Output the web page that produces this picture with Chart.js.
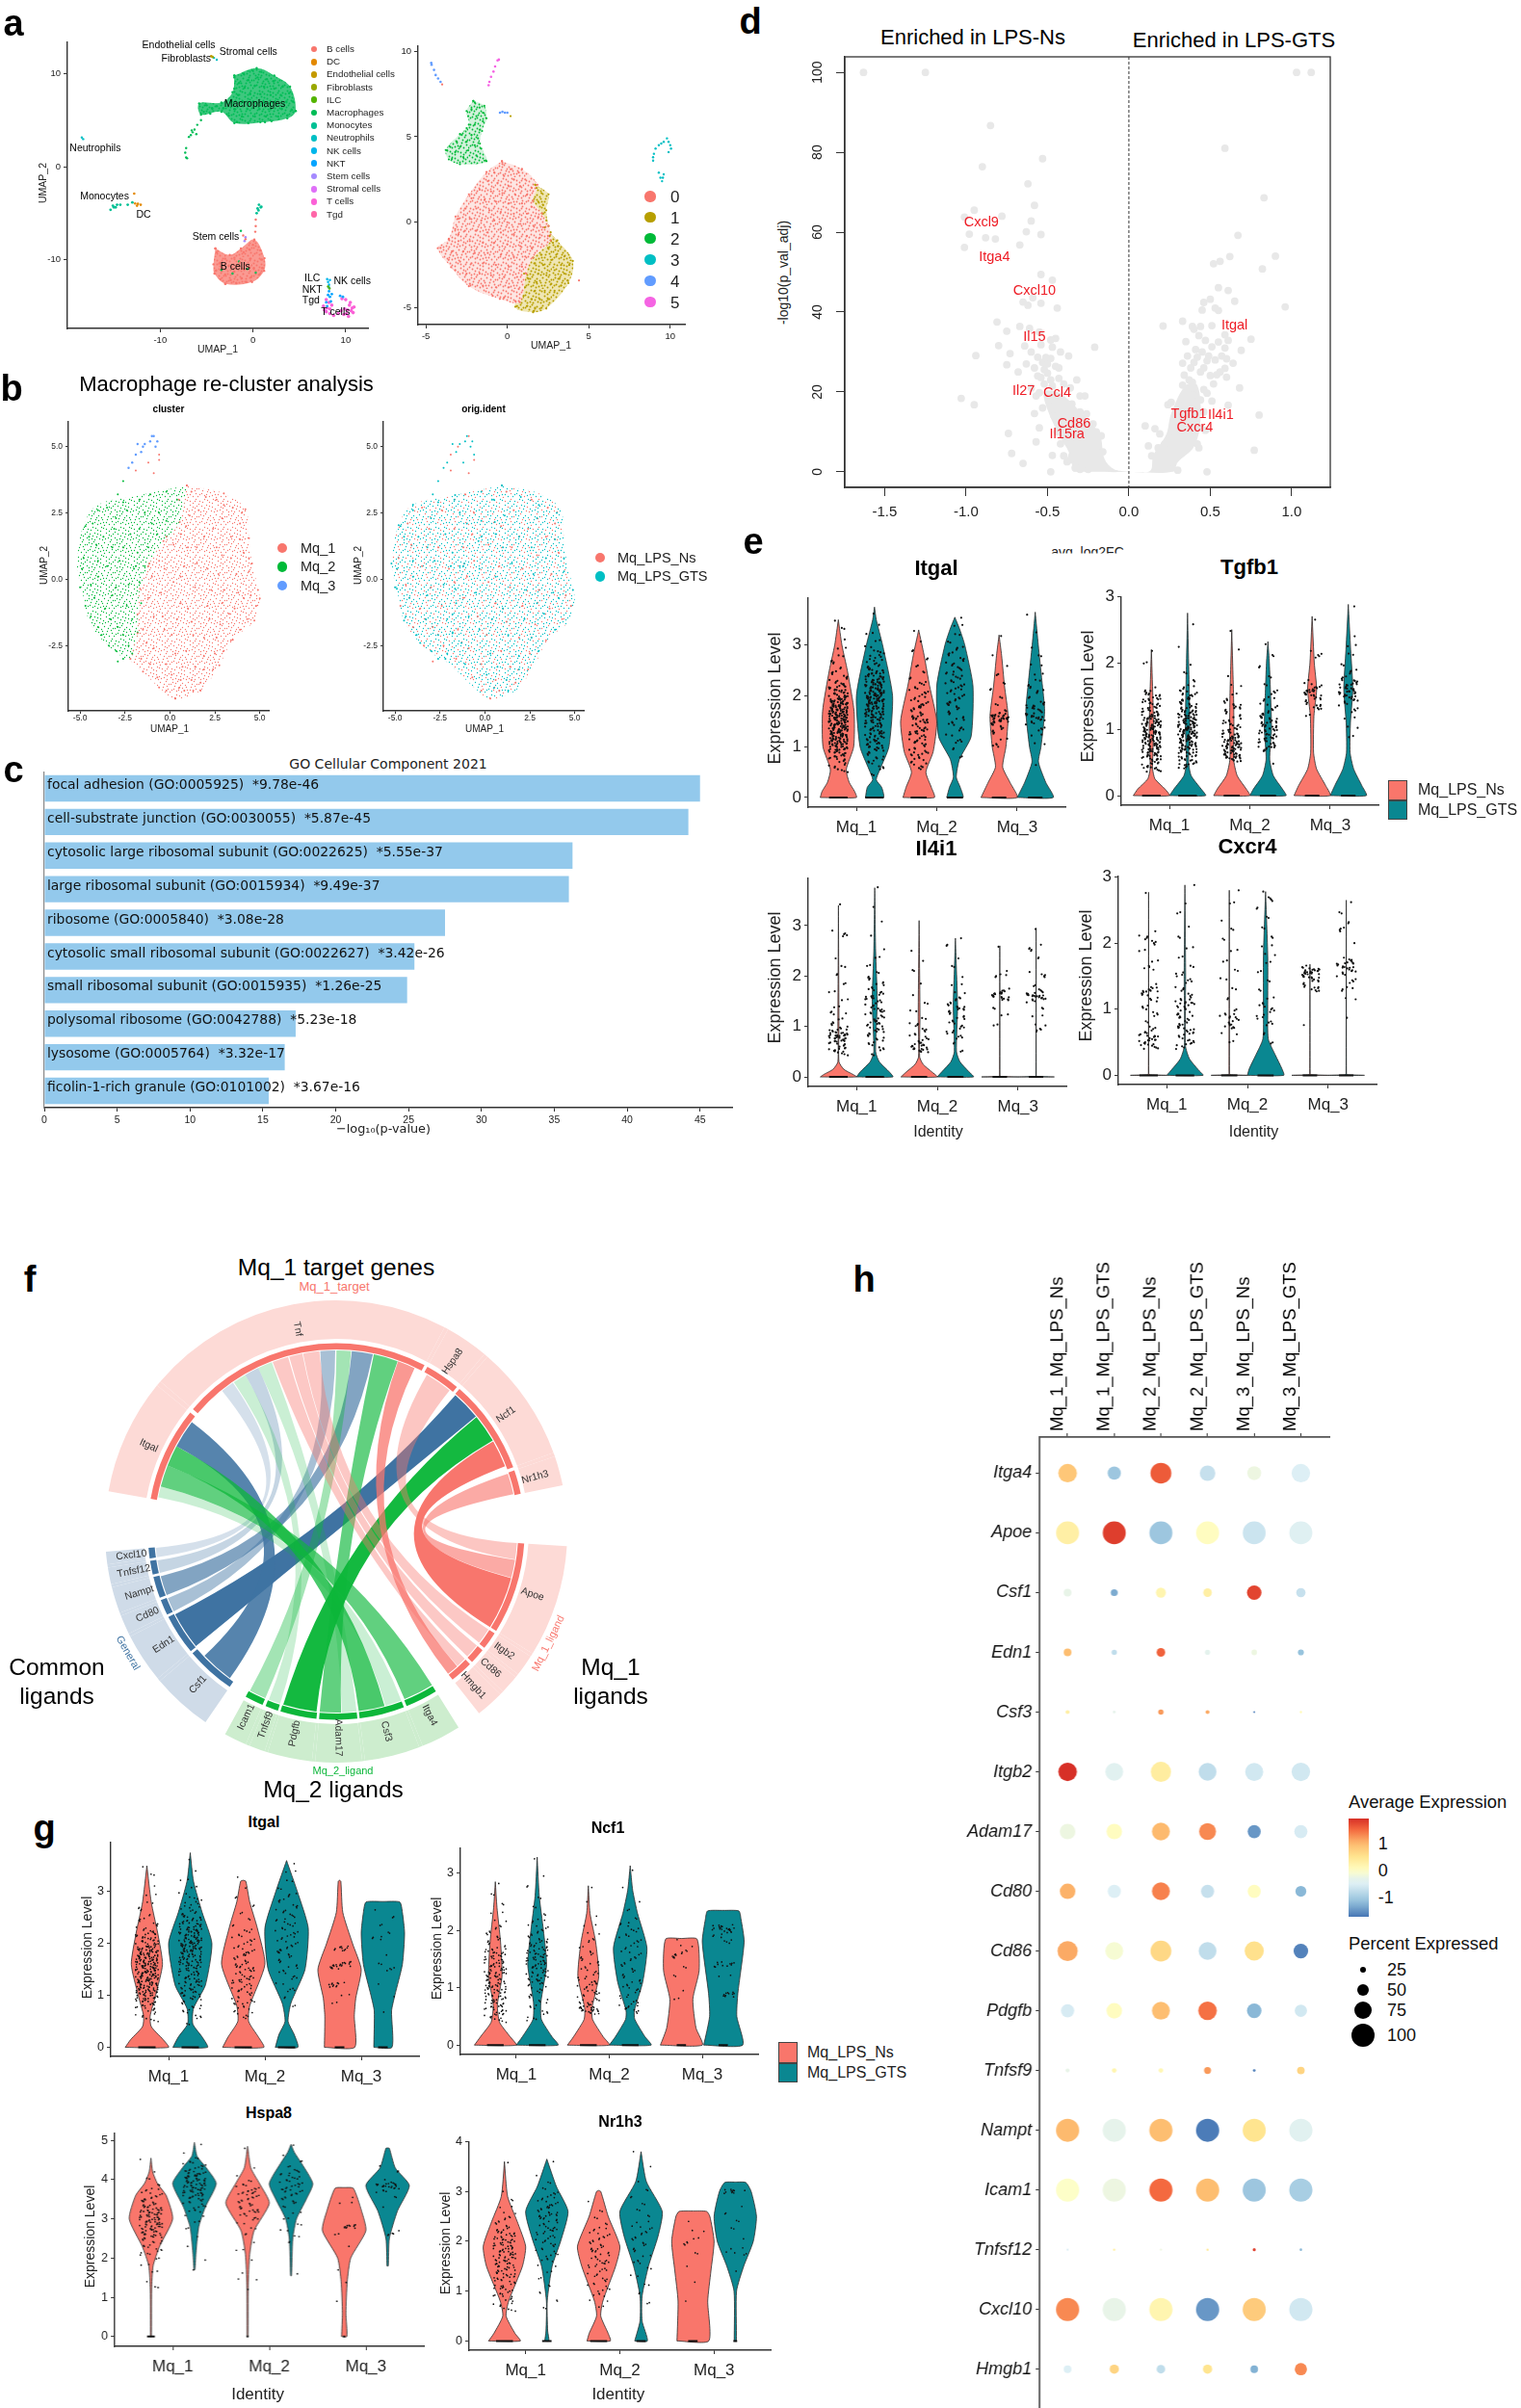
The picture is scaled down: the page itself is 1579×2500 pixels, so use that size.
<!DOCTYPE html>
<html><head><meta charset="utf-8"><title>Macrophage figure</title>
<script src="https://cdn.jsdelivr.net/npm/chart.js@4"></script>
<style>
body{margin:0;background:#fff;font-family:"Liberation Sans",Arial,sans-serif;color:#000}
#page{position:relative;width:1579px;height:2500px;overflow:hidden}
#page canvas{position:absolute}
.t{position:absolute;white-space:nowrap;line-height:1}
.d{position:absolute;border-radius:50%}
.s{position:absolute;box-sizing:border-box;border:1px solid #444}
</style></head><body><div id="page"></div>
<script>
// ---- panel a
var atlasNames=["B cells","DC","Endothelial cells","Fibroblasts","ILC","Macrophages","Monocytes","Neutrophils","NK cells","NKT","Stem cells","Stromal cells","T cells","Tgd"];
var atlasColors=["#F8766D","#E38900","#C49A00","#99A800","#53B400","#00BC56","#00C094","#00BFC4","#00B6EB","#06A4FF","#A58AFF","#DF70F8","#FB61D7","#FF66A8"];
var macrophageHull=[[-2,9.8],[.4,10.6],[2.3,9.8],[4,8.6],[4.6,6],[3.7,5.2],[1.3,4.8],[-2,4.7],[-3.4,5.9],[-5.6,5.6],[-5.8,6.8],[-3.4,6.9],[-2.2,8],[-2,9.8]];
var bCellHull=[[-4.05,-8.8],[-2.5,-9.5],[-1.3,-8.8],[.15,-7.85],[1.25,-9.85],[1.2,-11.2],[-.1,-12.4],[-2.95,-12.6],[-4.15,-11.5],[-4.25,-10.5],[-4.05,-8.8]];
var macrophageCells=[[-2,9.6],[-1,10],[0,10.3],[.9,10.2],[-1.5,9],[-.5,9.3],[.5,9.6],[1.5,9.4],[2.2,9.2],[-2,8.4],[-.9,8.5],[.2,8.7],[1.2,8.6],[2.3,8.4],[3.2,8.6],[-1.6,7.7],[-.3,7.8],[.8,7.8],[1.9,7.7],[3,7.7],[3.9,7.9],[-2.3,7],[-1.1,7],[0,7],[1.2,6.9],[2.4,7],[3.6,7],[4.3,7],[-3.2,6.3],[-2,6.2],[-.6,6.2],[.7,6.2],[1.9,6.2],[3.1,6.2],[4.2,6.1],[-5,6.6],[-4.4,6.3],[-5.3,5.9],[-4.6,5.7],[-3.9,6.5],[-2.6,5.5],[-1.2,5.4],[.2,5.4],[1.4,5.4],[2.7,5.4],[3.7,5.5],[-1.7,4.8],[-.5,4.7],[.8,4.8],[2,4.9],[4.6,6],[-6.5,3.7],[-6.3,4],[-6,4.5],[-5.6,5],[-6.6,3.9],[-6.1,3.5],[-7.2,2],[-7.3,1.5],[-7.2,1],[-7.1,.9],[-6.9,3.2],[-6.7,3.4]];
var bCellCells=[[-3.9,-9.2],[-3,-9.9],[-2,-9.8],[-1,-9.2],[0,-8.4],[.8,-9],[-3.6,-10.4],[-2.6,-10.7],[-1.4,-10.3],[-.3,-9.9],[.9,-10],[-4,-11.2],[-3,-11.6],[-2,-11.3],[-1,-11],[.1,-10.9],[1,-10.9],[-3.5,-12.1],[-2.4,-12.2],[-1.2,-12],[-.2,-11.9],[.7,-11.6],[-3,-12.6],[-1.8,-12.5],[-.7,-12.4],[-.4,-8.9],[.3,-5.7],[.3,-6.4],[.25,-7],[-.8,-7.8],[-1.05,-7.4]];
var otherCells={
 DC:[[-12.7,-3.96],[-12.4,-4],[-12.1,-4.1],[-12.5,-4.2],[-12.8,-2.9]],
 Endothelial:[[-4.5,11.9]],
 Fibroblasts:[[-4.35,11.8]],
 ILC:[[8.1,-12.9],[8.25,-13.1]],
 Macro2:[[-1.5,-10.2],[-2.2,-11.5],[.3,-11.4],[-3.4,-11.1],[-1.3,-6.9],[-.6,-11]],
 Monocytes:[[-15.35,-4.64],[-15,-4.37],[-14.65,-4.1],[-14.3,-4.1],[-15.1,-4.2],[-14.8,-4.37],[-13,-3.85],[-13.5,-4.1],[.4,-5],[.85,-4.37],[.6,-4.7],[.5,-4.5],[.9,-4.3],[.65,-4.1]],
 Neutrophils:[[-18.45,3.14],[-18.3,2.97],[-4.2,11.7],[-3.9,11.5]],
 NK:[[8,-12.1],[8.1,-12.4],[8.2,-12.7],[8.3,-12.2]],
 NKT:[[8.2,-13],[8.2,-13.4],[8.1,-13.8],[8.3,-14],[7.9,-14.6],[8.4,-14.5],[8,-15],[9.4,-13.9],[9.7,-14],[8.5,-13.7]],
 Stem:[[-.8,-7.6],[-.9,-8]],
 T:[[7.6,-15],[7.9,-15.6],[8.3,-15.8],[8.7,-16],[9.2,-15.8],[9.8,-15.9],[10.3,-16.1],[10.8,-15.7],[10.9,-15.1],[10.5,-14.6],[10,-14.3],[9.6,-14.2],[7.9,-14.3],[8.2,-14.6],[8.5,-14.9],[10.2,-15.4],[10.6,-15.5],[9.9,-15.3],[8,-15.2],[8.3,-15.3],[10.4,-14.9],[10.1,-15.8],[10.7,-15.2],[9.5,-15.5],[7.7,-15.4]]
};
var clusterNames=["0","1","2","3","4","5"];
var clusterColors=["#F8766D","#B79F00","#00BA38","#00BFC4","#619CFF","#F564E3"];
var hull0=[[-.33,3.57],[.9,3.11],[1.85,2.19],[1.58,1.26],[2.12,.52],[2.53,-.22],[2.66,-1.06],[1.58,-2.07],[1.17,-3],[.76,-4.67],[-.46,-4.48],[-2.36,-3.74],[-3.45,-2.63],[-4.27,-1.52],[-3.59,-.96],[-3.18,.33],[-2.36,1.63],[-1.28,2.93],[-.33,3.57]];
var hull1=[[1.71,2.19],[2.53,1.63],[2.39,.7],[2.66,-.59],[3.07,-1.06],[4.02,-2.26],[3.75,-3.56],[2.39,-5.04],[1.58,-5.26],[.49,-4.94],[1.03,-3],[1.58,-2.07],[2.66,-1.06],[2.53,-.22],[2.12,.52],[1.58,1.26],[1.71,2.19]];
var hull2=[[-2.09,7.09],[-1.41,6.8],[-1.28,6.07],[-1.55,5.33],[-1.68,4.6],[-1.28,3.57],[-2.91,3.39],[-3.59,3.67],[-3.78,4.22],[-2.91,5.15],[-2.36,5.7],[-2.5,6.5],[-2.09,7.09]];
var cluster0=[[-.3,3.4],[.2,3.1],[.7,2.9],[-.8,2.9],[-.2,2.7],[.4,2.5],[1.1,2.5],[-1.2,2.4],[-.6,2.3],[.1,2.1],[.8,2.1],[1.5,2],[-1.7,1.9],[-1,1.8],[-.3,1.7],[.5,1.6],[1.2,1.6],[-2.2,1.4],[-1.4,1.3],[-.7,1.2],[.1,1.1],[.9,1.1],[1.5,.9],[-2.6,.8],[-1.9,.8],[-1.1,.7],[-.4,.6],[.4,.5],[1.2,.5],[1.9,.3],[-3,.2],[-2.3,.2],[-1.6,.1],[-.8,.1],[0,0],[.8,-.1],[1.6,-.2],[2.2,-.3],[-3.2,-.4],[-2.6,-.5],[-1.9,-.5],[-1.2,-.6],[-.4,-.6],[.4,-.7],[1.2,-.8],[2,-.9],[2.5,-.8],[-3.6,-1],[-3,-1.1],[-2.3,-1.1],[-1.5,-1.2],[-.8,-1.2],[0,-1.3],[.8,-1.4],[1.5,-1.5],[-4.1,-1.5],[-3.4,-1.7],[-2.7,-1.7],[-2,-1.8],[-1.2,-1.8],[-.4,-1.9],[.4,-2],[1.1,-2],[-3.6,-2.2],[-2.9,-2.3],[-2.2,-2.4],[-1.5,-2.4],[-.7,-2.5],[.1,-2.6],[.9,-2.6],[-3.2,-2.8],[-2.5,-3],[-1.7,-3],[-1,-3.1],[-.2,-3.2],[.6,-3.2],[-2.3,-3.6],[-1.5,-3.7],[-.7,-3.8],[.1,-3.8],[.7,-3.9],[-.9,-4.3],[-.2,-4.4],[.5,-4.6],[-3,-.7],[-4,8.05],[4.4,-3.4]];
var cluster1=[[1.8,2],[2.1,1.7],[1.9,1.2],[2.2,1],[2.2,.5],[2.4,.1],[2.3,-.3],[2.6,-.8],[2.8,-1.2],[3.1,-1.4],[2.5,-1.5],[3,-1.9],[3.5,-2],[2.1,-1.9],[2.7,-2.2],[3.3,-2.5],[3.8,-2.5],[2.2,-2.5],[1.7,-2.4],[2.9,-2.8],[3.5,-3],[1.9,-3],[2.4,-3.1],[3.2,-3.3],[3.7,-3.4],[1.3,-3.3],[1.8,-3.5],[2.7,-3.6],[3.3,-3.7],[1.1,-3.8],[1.7,-4],[2.3,-4],[2.9,-4],[1,-4.3],[1.5,-4.5],[2,-4.5],[2.5,-4.5],[1.2,-4.9],[1.7,-5],[2.1,-5],[1.6,-5.2],[.6,-4.9],[.2,6.2]];
var cluster2=[[-2,7],[-1.7,6.7],[-2.2,6.6],[-1.5,6.4],[-2.4,6.2],[-1.9,6.2],[-1.5,5.9],[-2,5.7],[-2.5,5.5],[-1.7,5.4],[-2.2,5.1],[-2.8,5.1],[-1.8,4.9],[-2.5,4.7],[-3.1,4.7],[-2,4.5],[-2.9,4.4],[-3.5,4.4],[-1.6,4.3],[-2.4,4.2],[-3.2,4.1],[-3.7,4.2],[-1.9,3.9],[-2.7,3.8],[-3.4,3.7],[-1.4,3.6]];
var cluster3=[[9.8,4.9],[9.9,4.7],[10,4.5],[10.05,4.3],[9.9,4.1],[9.3,4.5],[9.1,4.3],[9,4],[8.95,3.8],[8.95,3.6],[9.3,2.9],[9.4,2.6],[9.5,2.4],[9.55,2.6],[9.6,2.8],[9.45,4.6],[9.6,4.7]];
var cluster4=[[-4.67,9.31],[-4.65,9.2],[-4.5,8.9],[-4.4,8.6],[-4.25,8.4],[-4.1,8.2],[-.45,6.4],[-.3,6.45],[-.15,6.4],[0,6.4]];
var cluster5=[[-.52,9.5],[-.6,9.45],[-.75,9.1],[-.85,8.8],[-1,8.5],[-1.1,8.2],[-1.15,8]];
// ---- panel b
var hullMq1=[[.94,3.54],[3,3.24],[4.2,2.64],[4.4,1.55],[4.57,.6],[5,-.72],[4.7,-1.56],[3.5,-2.28],[2.75,-3.24],[1.7,-4.2],[.3,-4.5],[-.6,-4.08],[-1.5,-3.48],[-2.2,-3],[-1.8,-2.04],[-1.8,-1.32],[-1.66,-.36],[-1.14,.6],[-.36,1.44],[.55,2.16],[.94,3.54]];
var hullMq2=[[.94,3.54],[.55,2.16],[-.36,1.44],[-1.14,.6],[-1.66,-.36],[-1.8,-1.32],[-1.8,-2.04],[-2.2,-3],[-3.6,-2.4],[-4.5,-1.56],[-4.9,-.36],[-5.2,.6],[-4.8,2.04],[-4,2.81],[-1.66,3.17],[.94,3.54]];
var mq1Ns=[[1.2,3.3],[2.6,3],[3.5,2.7],[1.6,2.6],[3.9,2.1],[.9,2],[2.4,1.9],[3.4,1.6],[.2,1.3],[1.5,1.2],[4.1,1],[2.9,.9],[-.6,.7],[.8,.5],[2.1,.4],[3.7,.2],[-1,.1],[.2,-.1],[1.4,-.3],[3,-.4],[4.5,-.6],[-1.2,-.7],[.6,-.9],[2.1,-1],[3.6,-1.1],[4.8,-1],[-.4,-1.4],[1.2,-1.6],[2.8,-1.7],[4.3,-1.5],[-1.5,-1.9],[.1,-2.1],[1.9,-2.2],[3.4,-2.3],[-.9,-2.6],[.9,-2.7],[2.5,-2.8],[-1.6,-3],[-.2,-3.2],[1.4,-3.3],[2.4,-3.4],[-.7,-3.7],[.6,-3.8],[1.7,-3.9],[-.2,-4.2],[.8,-4.2],[.3,-4.5],[-.6,4.5],[-1.9,4.1],[-.9,4]];
var mq1Gts=[[.5,3],[2,3.1],[3,2.8],[1.1,2.4],[2.9,2.3],[4,2.5],[.6,1.7],[1.9,1.6],[3.9,1.5],[-.2,1.6],[1,1.2],[2.6,1.2],[3.4,.8],[4.4,.8],[-.3,.4],[1.5,.6],[2.7,.2],[4.4,.3],[-1.2,.5],[.6,.1],[2.3,-.4],[3.8,-.5],[-.5,-.5],[1,-1.1],[2.9,-.9],[4.1,-.7],[4.9,-.4],[-.9,-1.4],[.4,-1.5],[2.2,-1.5],[3.3,-1.3],[-1.3,-2.4],[-.3,-1.9],[1.3,-2.1],[2.6,-2.2],[3.9,-1.9],[.3,-2.8],[1.9,-2.9],[3,-2.7],[-1.1,-3.2],[.7,-3.3],[1.9,-3.4],[.1,-3.6],[1.2,-3.8],[.5,-4.1],[1.3,-4.2],[-.6,4.7],[-1.2,4.4]];
var mq2Ns=[[-1.1,3.2],[-3.5,2.7],[-2.4,2.6],[-.6,2.5],[-4.3,2.1],[-3.1,1.9],[-1.7,1.9],[-.7,1.7],[-4.1,1.3],[-2.6,1.2],[-1.2,1.2],[-4.8,.8],[-3.5,.5],[-2,.4],[-4.4,-.2],[-3,-.3],[-1.7,-.1],[-4.7,-1],[-3.6,-1.1],[-2.4,-1],[-4,-1.8],[-2.9,-1.8],[-3.4,-2.5],[-2.3,-2.5],[-2.9,-3.1]];
var mq2Gts=[[-.2,3.3],[-1.7,3],[-2.6,2.9],[.4,3],[-4,2.6],[-3,2.3],[-1.4,2.5],[-.2,2.2],[-4.7,2],[-3.7,1.6],[-2.2,1.7],[-1,2.1],[-4.5,1.6],[-3.2,1.2],[-1.8,1],[-4.9,.4],[-4,.7],[-2.8,.7],[-1.4,.5],[-5,-.3],[-4,.1],[-2.3,-.2],[-1.9,.5],[-4.2,-.7],[-3.2,-.6],[-1.6,-.9],[-4.4,-1.4],[-3.3,-1.5],[-2.1,-1.5],[-3.8,-2.1],[-2.6,-2.1],[-1.8,-2],[-3,-2.7],[-2.1,-2.8],[-2.6,-3],[-2.6,3.7],[-2.9,3.2]];
var mq3Ns=[[-.9,5.4],[-1.5,5],[-1.9,4.7]];
var mq3Gts=[[-1.8,5.1],[-1.4,5.1],[-1.1,5.2],[-.8,5],[-1.6,4.8],[-2.1,4.4],[-2.3,4.2],[-1,5.4],[-.7,5.2]];
// ---- panel c
var goTerms=["focal adhesion (GO:0005925)  *9.78e-46","cell-substrate junction (GO:0030055)  *5.87e-45","cytosolic large ribosomal subunit (GO:0022625)  *5.55e-37","large ribosomal subunit (GO:0015934)  *9.49e-37","ribosome (GO:0005840)  *3.08e-28","cytosolic small ribosomal subunit (GO:0022627)  *3.42e-26","small ribosomal subunit (GO:0015935)  *1.26e-25","polysomal ribosome (GO:0042788)  *5.23e-18","lysosome (GO:0005764)  *3.32e-17","ficolin-1-rich granule (GO:0101002)  *3.67e-16"];
var goValues=[45,44.2,36.25,36,27.5,25.4,24.9,17.25,16.5,15.4];
var goTicks=[0,5,10,15,20,25,30,35,40,45];
// ---- panel d
var volcanoFloorLeft=[[-.34,0],[-.37,5],[-.42,8.5],[-.5,15.6],[-.52,20],[-.44,20],[-.37,18],[-.29,14.6],[-.18,9.4],[-.15,3.3],[-.09,.6],[0,0],[-.34,0]];
var volcanoFloorRight=[[0,0],[.13,.2],[.15,4.1],[.23,9.4],[.26,14.6],[.35,21.7],[.42,21.7],[.44,13],[.4,6.3],[.3,2.4],[.27,0],[0,0]];
var volcanoCells=[[-1.63,100],[-1.25,100],[1.03,100],[1.12,100],[-.85,86.7],[-.53,78.4],[-.9,76.4],[-.62,72.1],[-.58,66.7],[-.95,65.5],[-1.01,63.8],[-.78,64],[-.6,62.8],[-.63,60.1],[-.98,59.5],[-.88,58.6],[-.82,58.3],[-.54,59.4],[-.67,56.8],[-1.01,56.2],[-.54,49.4],[-.47,48],[-.65,42.5],[-.59,43.6],[-.62,41.7],[-.54,42.2],[-.44,41],[-.81,37.5],[-.67,36.4],[-.61,35.9],[-.75,35.2],[-.45,33.4],[-.8,31.6],[-.64,31.5],[-.54,31.8],[-.47,31.2],[-.21,31.2],[-.73,29.6],[-.94,29.1],[-.56,28.7],[-.51,28.6],[-.37,29],[-.75,26.8],[-.53,27.4],[-.48,28.4],[-.43,26],[-.68,25],[-.45,26.4],[-.52,25.6],[-.54,23.6],[-.5,24.7],[-.43,23.4],[-.32,23],[-.4,22],[-.36,21],[-.47,21.5],[-.55,19.8],[-.3,19],[-.27,19],[-1.03,18.4],[-.95,16.8],[-.58,14.6],[-.74,9.6],[-.55,11],[-.57,7.5],[-.72,4.6],[-.47,4.1],[-.65,2.1],[-.48,0],[-.38,2.5],[-.3,15],[-.26,14.5],[-.22,12],[-.2,10],[-.17,9],[-.16,5],[-.42,7],[-.4,4],[-.36,3],[-.33,1],[-.3,.6],[-.25,.6],[-.35,4],[-.44,10],[-.38,12],[-.46,14],[-.35,17],[-.49,18],[-.52,22],[-.48,23],[-.58,26],[-.6,21],[-.5,27],[-.56,24],[-.6,30],[-.63,27],[-.42,30],[-.48,33],[-.55,35],[-.24,11],[-.53,16],[-.57,19],[.59,81],[.83,68.6],[.67,59.2],[.9,54],[.62,53.9],[.56,52.7],[.52,52.1],[.82,50.8],[.55,46.1],[.61,45.4],[.5,43.2],[.46,42.4],[.65,42.7],[.96,41.3],[.45,40.5],[.53,41],[.55,40.4],[.33,37.7],[.21,36.5],[.39,36.4],[.44,36.4],[.51,36.6],[.4,35.7],[.59,34.3],[.43,34.1],[.35,32.6],[.47,32.9],[.55,32.5],[.61,32.9],[.75,33.2],[.41,30.6],[.51,31.3],[.59,31],[.69,30.4],[.42,28.7],[.48,27.8],[.6,28.3],[.33,27.2],[.4,27.4],[.64,27.2],[.46,26],[.38,26],[.59,25.9],[.34,24.2],[.5,24.1],[.54,24.3],[.6,23.7],[.39,22.4],[.46,20.6],[.33,21.7],[.68,21],[.48,19.7],[.51,17.7],[.39,19.3],[.34,18],[.24,16.8],[.26,17.4],[.61,16.7],[.8,14.2],[.1,11.5],[.16,10.8],[.19,9.5],[.77,5.4],[.48,0],[.44,11],[.47,10.4],[.42,7],[.43,6],[.12,6.5],[.14,4],[.2,2],[.24,1],[.18,6],[.22,7],[.28,10],[.3,12],[.37,15],[.42,15],[.44,18],[.37,23],[.44,25],[.52,22],[.56,25],[.49,29],[.36,29],[.53,28],[.45,30],[.57,29],[.3,.4],[.46,15]];
var volcanoLabels=[["Cxcl9",-.906,62.5],["Itga4",-.826,53.8],["Cxcl10",-.58,45.2],["Il15",-.58,33.7],["Il27",-.647,20.1],["Ccl4",-.44,19.7],["Cd86",-.337,12.1],["Il15ra",-.38,9.3],["Itgal",.649,36.6],["Tgfb1",.367,14.4],["Il4i1",.565,14.3],["Cxcr4",.405,11]];
var volcanoXTicks=[-1.5,-1,-.5,0,.5,1];
var volcanoYTicks=[0,20,40,60,80,100];
// ---- violin panels e, g: [level, relative half width]
var identNames=["Mq_1","Mq_2","Mq_3"];
var eItgalShape=[
 [[0,1],[.12,.9],[.3,.6],[.55,.44],[1,.85],[1.7,.87],[2.5,.5],[3,.2],[3.5,0]],
 [[0,.5],[.2,.4],[.35,.1],[.55,.3],[1,.8],[2,1],[3,.45],[3.5,.1],[3.75,0]],
 [[0,.87],[.2,.7],[.5,.4],[.9,.8],[1.5,1],[2.2,.6],[2.8,.3],[3.3,0]],
 [[0,.45],[.2,.3],[.4,.08],[.75,.25],[1.2,.9],[2.2,1],[3,.55],[3.3,.28],[3.55,0]],
 [[0,1],[.3,.6],[.6,.2],[1,.38],[1.6,.5],[2.2,.3],[2.8,.14],[3.2,0]],
 [[0,1],[.3,.58],[.7,.18],[1,.32],[1.7,.52],[2.3,.37],[3,.17],[3.65,0]]];
var eTgfb1Shape=[
 [[0,1],[.1,.75],[.25,.2],[.4,.07],[.6,.08],[1,.12],[1.5,.08],[2.2,0]],
 [[0,1],[.1,.75],[.3,.2],[.5,.06],[1,.12],[1.5,.1],[2,.06],[2.75,0]],
 [[0,1],[.1,.8],[.3,.3],[.55,.1],[1,.12],[1.5,.1],[2,.05],[2.5,0]],
 [[0,1],[.1,.8],[.3,.3],[.55,.1],[1,.2],[1.5,.15],[2,.08],[2.32,0]],
 [[0,1],[.15,.75],[.4,.25],[.65,.08],[1.2,.1],[1.6,.25],[2,.12],[2.7,0]],
 [[0,1],[.15,.75],[.4,.3],[.65,.1],[1.1,.12],[1.6,.25],[2.2,.13],[2.88,0]]];
var eIl4i1Shape=[
 [[0,1],[.05,.8],[.15,.3],[.3,.03],[1,.03],[3.4,0]],
 [[0,1],[.1,.8],[.3,.25],[.5,.05],[1.5,.14],[2.5,.05],[3.75,0]],
 [[0,1],[.1,.7],[.25,.22],[.4,.03],[1.2,.05],[3.1,0]],
 [[0,1],[.1,.75],[.3,.25],[.5,.06],[1.4,.12],[2.2,.05],[2.75,0]],
 [[0,1],[.01,.05],[.03,.01],[2.6,0]],
 [[0,1],[.01,.05],[.03,.01],[2.95,0]]];
var eCxcr4Shape=[
 [[0,1],[.01,.03],[.03,.01],[2.77,0]],
 [[0,1],[.08,.75],[.25,.25],[.45,.03],[1.5,.04],[2.88,0]],
 [[0,1],[.01,.03],[.03,.01],[2.8,0]],
 [[0,1],[.1,.9],[.3,.55],[.55,.15],[1,.12],[1.8,.12],[2.78,0]],
 [[0,1],[.01,.03],[.03,.01],[1.68,0]],
 [[0,1],[.01,.03],[.03,.01],[2.65,0]]];
var gItgalShape=[
 [[0,1],[.15,.75],[.4,.2],[.6,.15],[1,.4],[1.6,.72],[2.2,.5],[2.8,.2],[3.5,0]],
 [[0,.8],[.2,.55],[.45,.12],[.75,.15],[1.2,.7],[2,1],[2.6,.55],[3.2,.15],[3.75,0]],
 [[0,.95],[.2,.7],[.5,.25],[.8,.3],[1.6,1],[2.3,.65],[2.8,.3],[3.2,.12],[3.22,0]],
 [[0,.52],[.25,.35],[.5,.07],[.85,.2],[1.5,.85],[2.3,1],[3,.5],[3.6,0]],
 [[0,.7],[.6,.68],[.95,.75],[1.5,1],[2,.6],[2.6,.15],[3.2,.06],[3.22,0]],
 [[0,.42],[.7,.4],[1,.55],[1.6,.9],[2.2,1],[2.6,.9],[2.8,.78],[2.81,0]]];
var gNcf1Shape=[
 [[0,1],[.15,.7],[.4,.2],[.7,.1],[1.2,.32],[1.8,.25],[2.4,.08],[2.85,0]],
 [[0,1],[.15,.7],[.45,.2],[.75,.18],[1.4,.45],[2,.3],[2.6,.1],[3.28,0]],
 [[0,1],[.15,.7],[.45,.2],[.65,.18],[1.2,.5],[1.8,.35],[2.3,.08],[2.78,0]],
 [[0,1],[.15,.7],[.45,.22],[.6,.2],[1.1,.6],[1.7,.8],[2.3,.35],[2.7,.12],[3.13,0]],
 [[0,1],[.3,.7],[.8,.55],[1.3,.85],[1.85,.75],[1.86,0]],
 [[0,.93],[.5,.65],[.9,.7],[1.8,1],[2.2,.85],[2.34,.75],[2.35,0]]];
var gHspa8Shape=[
 [[0,.02],[1.2,.03],[1.8,.1],[2.3,.4],[3,1],[3.6,.7],[3.9,.3],[4.2,.08],[4.55,0]],
 [[1.7,.02],[2.2,.08],[2.8,.2],[3.3,.5],[3.9,1],[4.3,.55],[4.6,.12],[4.95,0]],
 [[0,.02],[1.3,.03],[2.1,.1],[2.7,.3],[3.4,1],[3.9,.55],[4.3,.15],[4.85,0]],
 [[1.55,.02],[2.5,.08],[3,.25],[3.5,.7],[3.9,1],[4.4,.5],[4.7,.15],[4.9,0]],
 [[0,.12],[.6,.08],[1.4,.14],[2,.3],[2.7,1],[3.2,.8],[3.78,.42],[3.8,0]],
 [[1.8,.03],[2.5,.08],[3.2,.45],[3.85,1],[4.3,.35],[4.8,.08],[4.81,0]]];
var gNr1h3Shape=[
 [[0,.75],[.15,.5],[.5,.08],[.8,.2],[1.5,.85],[1.9,1],[2.4,.6],[2.9,.15],[3.6,0]],
 [[0,.1],[.2,.04],[.8,.02],[1.5,.25],[2,.65],[2.6,1],[3.1,.45],[3.65,0]],
 [[0,.55],[.15,.45],[.5,.1],[.8,.2],[1.5,.8],[1.9,1],[2.5,.45],[3,.1],[3.02,0]],
 [[0,.3],[.4,.05],[.9,.05],[1.5,.35],[2.1,.8],[2.6,1],[3.2,.25],[3.8,0]],
 [[0,.75],[.8,.7],[1.4,.85],[2,1],[2.5,.8],[2.6,.65],[2.61,0]],
 [[0,.05],[1,.06],[1.5,.4],[2,.85],[2.5,1],[3,.75],[3.18,.5],[3.19,0]]];
// cell levels
var eItgalCells=[
 [.52,.61,.7,.78,.85,.92,.97,1.03,1.08,1.13,1.18,1.23,1.27,1.32,1.36,1.41,1.45,1.49,1.53,1.57,1.61,1.65,1.69,1.73,1.77,1.82,1.86,1.91,1.96,2.02,2.08,2.14,2.21,2.28,2.36,2.45,2.54,2.66,2.78,2.93,3.11,3.32,3.48],
 [.44,.58,.69,.77,.86,.95,1.02,1.09,1.16,1.23,1.29,1.36,1.43,1.49,1.55,1.61,1.66,1.72,1.77,1.83,1.88,1.93,1.98,2.03,2.08,2.13,2.19,2.24,2.29,2.35,2.41,2.47,2.54,2.61,2.69,2.77,2.86,2.96,3.08,3.22,3.4,3.62],
 [.58,.67,.76,.86,.94,1.03,1.11,1.19,1.27,1.34,1.42,1.5,1.57,1.64,1.72,1.8,1.88,1.96,2.05,2.14,2.24,2.34,2.46,2.58,2.72,2.88,3.07,3.28],
 [.79,.95,1.1,1.22,1.34,1.45,1.55,1.66,1.76,1.85,1.93,2.02,2.11,2.19,2.27,2.36,2.44,2.53,2.62,2.71,2.82,2.93,3.05,3.2,3.38,3.54],
 [1.02,1.14,1.28,1.37,1.46,1.53,1.58,1.63,1.7,1.82,1.96,2.12,2.24,2.41,2.59,2.8,3.18],
 [.64,1.05,1.22,1.34,1.46,1.55,1.62,1.7,1.78,1.85,1.96,2.08,2.18,2.3,2.42,2.6,2.78,2.95,3.25,3.6]];
var eTgfb1Cells=[
 [.39,.45,.52,.58,.63,.68,.73,.78,.82,.87,.91,.95,.99,1.04,1.08,1.13,1.18,1.23,1.29,1.35,1.42,1.48,1.55,1.63,1.99,2.18],
 [.44,.5,.56,.62,.68,.73,.78,.83,.87,.92,.96,1,1.05,1.09,1.14,1.19,1.24,1.29,1.35,1.41,1.48,1.55,1.63,1.72,1.84,1.97,2.24,2.58],
 [.55,.6,.65,.7,.75,.8,.85,.9,.96,1.03,1.1,1.18,1.26,1.34,1.42,1.52,1.65,1.8,2.2,2.48],
 [.48,.7,.76,.83,.89,.95,1.01,1.07,1.13,1.2,1.27,1.35,1.45,1.55,1.66,1.78,1.93,2.1,2.28],
 [1.2,1.33,1.4,1.48,1.55,1.6,1.66,1.74,2.1,2.18,2.65],
 [.88,1.02,1.16,1.28,1.38,1.46,1.53,1.58,1.64,1.7,1.76,1.86,1.96,2.12,2.25,2.4,2.85]];
var eIl4i1Cells=[
 [.45,.53,.6,.68,.74,.8,.84,.9,.96,1.05,1.14,1.26,1.38,1.52,1.68,1.84,2.02,2.18,2.35,2.81,2.9,3.42],
 [.43,.55,.65,.74,.83,.92,1,1.08,1.16,1.24,1.32,1.4,1.48,1.57,1.65,1.74,1.84,1.95,2.06,2.2,2.36,2.53,2.8,3.08,3.37,3.76],
 [.52,.58,.65,.73,.82,.92,1.03,1.15,1.3,1.45,1.62,1.85,2.1,2.3,2.5],
 [.5,.66,.78,.88,.98,1.08,1.17,1.27,1.36,1.44,1.54,1.66,1.82,1.98,2.18,2.35,2.6,2.75],
 [1.02,1.22,1.35,1.55,1.62,1.68,1.75,2,2.1,2.58],
 [.92,1.02,1.2,1.35,1.5,1.58,1.63,1.7,1.8,2,2.08,2.35,2.52,2.62,2.93]];
var eCxcr4Cells=[
 [.43,.5,.56,.62,.7,.8,.92,1.02,1.14,1.24,1.3,1.38,1.62,1.72,1.88,2,2.08,2.18,2.76],
 [.42,.5,.58,.66,.74,.82,.9,.98,1.06,1.12,1.2,1.3,1.42,1.52,1.64,1.78,1.92,2.08,2.25,2.45,2.6,2.88],
 [.5,.62,.74,.82,.9,.98,1.15,1.3,1.45,1.58,1.72,1.88,2.05,2.2,2.34,2.6,2.8],
 [.48,.62,.78,.88,.98,1.06,1.16,1.28,1.42,1.56,1.7,1.82,1.95,2.08,2.22,2.38,2.52,2.66,2.78],
 [.76,1.3,1.36,1.45,1.52,1.57,1.6,1.66],
 [.87,1.15,1.3,1.42,1.52,1.6,1.66,1.72,1.78,2,2.2,2.3,2.45,2.62]];
var gItgalMq3=[[.85,1,1.2,1.25,1.55,1.6,1.65,1.9,1.95],[.68,.98,1.22,1.5,1.6,1.78,2.1,2.2,2.35,2.5,2.65]];
var gNcf1Cells=[
 [.42,.5,.57,.64,.7,.76,.82,.88,.94,1,1.05,1.11,1.17,1.23,1.28,1.34,1.4,1.46,1.52,1.58,1.64,1.7,1.78,1.86,1.95,2.05,2.16,2.3,2.45,2.62,2.82],
 [.45,.56,.66,.76,.85,.94,1.02,1.1,1.17,1.24,1.31,1.38,1.44,1.5,1.56,1.62,1.68,1.75,1.82,1.9,1.98,2.06,2.16,2.27,2.4,2.56,2.76,2.95,3.25],
 [.58,.63,.68,.76,.84,.92,1,1.08,1.16,1.25,1.33,1.42,1.5,1.6,1.7,1.82,1.94,2.08,2.25,2.5,2.75],
 [.58,.66,.74,.84,.94,1.02,1.1,1.2,1.3,1.4,1.5,1.6,1.7,1.8,1.9,2,2.1,2.2,2.35,2.5,2.75,3.05],
 [.8,.95,1.2,1.35,1.55,1.62,1.72,1.84],
 [.88,.9,1.2,1.4,1.45,1.8,1.9,2,2.05,2.1]];
var gHspa8Cells=[
 [1.25,1.4,1.65,1.82,1.98,2.1,2.2,2.3,2.4,2.48,2.56,2.63,2.7,2.77,2.83,2.89,2.95,3.01,3.07,3.13,3.19,3.25,3.32,3.39,3.47,3.55,3.64,3.74,3.86,4.02,4.2,4.52],
 [1.7,1.95,2.3,2.55,2.75,2.92,3.07,3.2,3.3,3.4,3.48,3.56,3.63,3.7,3.76,3.82,3.88,3.94,4,4.06,4.12,4.19,4.26,4.34,4.43,4.54,4.68,4.9],
 [1.2,1.45,1.62,1.95,2.2,2.4,2.6,2.75,2.88,3,3.1,3.2,3.28,3.36,3.44,3.52,3.6,3.68,3.76,3.85,3.96,4.1,4.3,4.8],
 [1.6,2.4,2.55,2.7,2.85,3,3.15,3.3,3.42,3.52,3.62,3.72,3.8,3.88,3.96,4.04,4.13,4.22,4.33,4.46,4.62,4.88],
 [.9,1.38,1.7,2.3,2.6,2.8,2.85,3.4,3.55],
 [2.6,2.7,3.3,3.55,3.7,3.8,3.86,3.9,4,4.2,4.35]];
var gNr1h3Cells=[
 [.62,.72,.82,.92,1,1.08,1.16,1.24,1.31,1.38,1.45,1.52,1.58,1.64,1.7,1.76,1.82,1.88,1.94,2,2.06,2.13,2.2,2.28,2.37,2.46,2.56,2.68,2.82,3,3.58],
 [.65,.8,.96,1.1,1.25,1.38,1.5,1.62,1.72,1.82,1.92,2,2.08,2.16,2.24,2.32,2.4,2.48,2.55,2.62,2.7,2.78,2.86,2.95,3.05,3.17,3.32,3.6],
 [.68,.8,.92,1.02,1.12,1.22,1.32,1.42,1.5,1.58,1.66,1.74,1.82,1.9,1.98,2.06,2.14,2.24,2.34,2.46,2.6,2.8],
 [.75,.95,1.12,1.3,1.45,1.58,1.7,1.82,1.94,2.05,2.16,2.27,2.38,2.5,2.62,2.74,2.88,3.02,3.2,3.5,3.8],
 [.8,1.18,1.5,1.75,1.95,2.05,2.2,2.4],
 [1.4,1.75,1.85,2.05,2.25,2.4,2.55,2.7,3,3.02]];
// ---- panel f
var chordGenes=["Itgal","","Tnf","","Hspa8","","Ncf1","","Nr1h3","","Apoe","","Itgb2","","Cd86","","Hmgb1","","Itga4","","Csf3","","Adam17","","Pdgfb","","Tnfsf9","","Icam1","","Csf1","","Edn1","","Cd80","","Nampt","","Tnfsf12","","Cxcl10",""];
var chordSpans=[29.2,1.3,77.5,1,10.9,1,29.2,1,7.4,15.2,28.2,.9,5.4,.9,4.8,.9,7.1,6.2,10,.9,13.9,.7,11.7,.8,11.2,.8,4,1,5.7,5.7,15.3,.8,12.5,.8,4.8,.8,6.6,.8,4.2,.8,3.2,15];
var chordGroups=["t","t","t","t","t","t","t","t","t","","l","l","l","l","l","l","l","","m","m","m","m","m","m","m","m","m","m","m","","g","g","g","g","g","g","g","g","g","g","g",""];
// ligand, share start, share end, target, share start, share end, colour group, opacity
var chordLinks=[
 ["Cxcl10",0,.95,"Tnf",.135,.19,"g",.22],
 ["Tnfsf12",0,.95,"Tnf",.25,.31,"g",.3],
 ["Nampt",0,.95,"Tnf",.703,.79,"g",.65],
 ["Cd80",0,.95,"Tnf",.574,.635,"g",.45],
 ["Edn1",.02,.98,"Ncf1",.01,.33,"g",1],
 ["Csf1",.1,.8,"Itgal",.62,.93,"g",.88],
 ["Itga4",0,.98,"Itgal",.15,.39,"m",.65],
 ["Csf3",0,.38,"Itgal",.03,.15,"m",.22],
 ["Csf3",.4,1,"Itgal",.39,.62,"m",.75],
 ["Adam17",0,.4,"Tnf",.31,.37,"m",.22],
 ["Adam17",.42,1,"Tnf",.794,.895,"m",.65],
 ["Pdgfb",.02,.98,"Ncf1",.34,.65,"m",.97],
 ["Tnfsf9",0,.95,"Tnf",.195,.25,"m",.22],
 ["Icam1",0,.95,"Tnf",.64,.7,"m",.38],
 ["Apoe",0,.185,"Hspa8",.1,.9,"l",.42],
 ["Apoe",.19,.395,"Nr1h3",.05,.95,"l",.62],
 ["Apoe",.4,1,"Ncf1",.66,.96,"l",1],
 ["Itgb2",0,.95,"Tnf",.503,.57,"l",.4],
 ["Cd86",0,.95,"Tnf",.445,.5,"l",.4],
 ["Hmgb1",0,.45,"Tnf",.374,.44,"l",.4],
 ["Hmgb1",.47,1,"Tnf",.897,.97,"l",.75]];
// ---- panel h
var dotGenes=["Itga4","Apoe","Csf1","Edn1","Csf3","Itgb2","Adam17","Cd80","Cd86","Pdgfb","Tnfsf9","Nampt","Icam1","Tnfsf12","Cxcl10","Hmgb1"];
var dotGroups=["Mq_1_Mq_LPS_Ns","Mq_1_Mq_LPS_GTS","Mq_2_Mq_LPS_Ns","Mq_2_Mq_LPS_GTS","Mq_3_Mq_LPS_Ns","Mq_3_Mq_LPS_GTS"];
var dotPercent=[[80,57,90,67,60,80],[99,99,99,99,99,99],[33,30,43,37,63,40],[33,23,37,22,24,26],[17,12,23,17,8,10],[80,77,87,77,78,80],[67,67,77,73,57,57],[67,57,77,57,57,47],[87,77,90,77,83,63],[57,67,77,80,63,53],[17,20,20,30,12,33],[100,100,100,100,100,100],[100,100,100,100,100,100],[9,10,9,10,13,11],[100,100,100,100,100,100],[33,40,37,40,33,53]];
var dotExpression=[[.85,-1.05,1.6,-.7,-.2,-.5],[.3,1.8,-1.05,.05,-.65,-.45],[-.25,-1.3,.2,.3,1.75,-.7],[.95,-.75,1.55,-.35,-.2,-1.1],[.3,-.3,1.2,1.1,-1.6,.1],[1.9,-.4,.35,-.75,-.6,-.6],[-.2,.05,1,1.3,-1.45,-.55],[1.05,-.5,1.35,-.7,.05,-1.2],[1.1,-.1,.65,-.75,.55,-1.6],[-.55,.05,.95,1.45,-1.2,-.6],[-.25,.2,.15,1.2,-1.6,.7],[1,-.3,.95,-1.65,.5,-.4],[-.02,-.2,1.5,.95,-1.05,-.95],[-.5,.3,-.2,.4,1.8,-1.2],[1.3,-.25,.2,-1.45,.8,-.6],[-.5,.7,-.75,.5,-1.25,1.3]];
var expressionStops=[[-1.7,[69,117,180]],[-1.15,[145,191,219]],[-.5,[221,239,245]],[-.25,[232,244,232]],[0,[255,255,197]],[.5,[255,229,144]],[1,[253,186,110]],[1.5,[244,105,63]],[1.9,[215,48,39]]];
var sizeLegend=[25,50,75,100];

// ---- helpers
Chart.defaults.animation=false;
Chart.defaults.events=[];
Chart.defaults.plugins.legend.display=false;
Chart.defaults.plugins.tooltip.enabled=false;
Chart.defaults.font.family='"Liberation Sans",Arial,sans-serif';
var page=document.getElementById("page");

function note(text,x,y,size,opts){
  opts=opts||{};
  var d=document.createElement("div");
  d.className="t";
  d.textContent=text;
  d.style.left=x+"px";d.style.top=y+"px";d.style.fontSize=size+"px";
  if(opts.bold)d.style.fontWeight="bold";
  if(opts.italic)d.style.fontStyle="italic";
  if(opts.color)d.style.color=opts.color;
  if(opts.family)d.style.fontFamily=opts.family;
  var tx=opts.left?"0":"-50%";
  d.style.transform="translate("+tx+",-50%) rotate("+(opts.rot||0)+"deg)";
  page.appendChild(d);
  return d;
}
function dot(x,y,r,color){
  var d=document.createElement("div");
  d.className="d";
  d.style.cssText="left:"+(x-r)+"px;top:"+(y-r)+"px;width:"+(2*r)+"px;height:"+(2*r)+"px;background:"+color;
  page.appendChild(d);
}
function swatch(x,y,w,h,color){
  var d=document.createElement("div");
  d.className="s";
  d.style.left=x+"px";d.style.top=y+"px";d.style.width=w+"px";d.style.height=h+"px";d.style.background=color;
  page.appendChild(d);
}
// canvas placed so the chart area lands on rect
function place(rect,margin,config){
  var c=document.createElement("canvas");
  var w=rect.r-rect.l+margin.l+margin.r,h=rect.b-rect.t+margin.t+margin.b;
  c.width=w;c.height=h;
  c.style.left=(rect.l-margin.l)+"px";c.style.top=(rect.t-margin.t)+"px";
  c.style.width=w+"px";c.style.height=h+"px";
  page.appendChild(c);
  config.options=config.options||{};
  config.options.responsive=false;
  return new Chart(c.getContext("2d"),config);
}
function axis(min,max,values,format,font,size,extra){
  var a={type:"linear",min:min,max:max,
    grid:{drawOnChartArea:false,tickLength:4,tickColor:"#333",tickWidth:1},
    border:{color:"#333",width:1.4},
    ticks:{font:{size:font},color:"#222",padding:3,autoSkip:false,maxRotation:0,callback:format},
    afterBuildTicks:function(s){s.ticks=values.map(function(v){return {value:v}})},
    afterFit:function(s){if(s.isHorizontal())s.height=size;else s.width=size}};
  if(extra)for(var k in extra)a[k]=extra[k];
  return a;
}
function plain(v){return String(v)}
function oneDecimal(v){return v.toFixed(1)}
// text drawn at data positions
function textMarks(items){
  return {id:"textMarks",afterDatasetsDraw:function(chart){
    var ctx=chart.ctx;
    items.forEach(function(m){
      ctx.save();
      ctx.translate(chart.scales.x.getPixelForValue(m.x)+(m.dx||0),chart.scales.y.getPixelForValue(m.y)+(m.dy||0));
      if(m.rot)ctx.rotate(m.rot*Math.PI/180);
      ctx.font=m.font;ctx.fillStyle=m.color||"#000";
      ctx.textAlign=m.align||"center";ctx.textBaseline="middle";
      ctx.fillText(m.text,0,0);
      ctx.restore();
    });
  }};
}
var speckleTile=[[2,3],[7,1],[12,4],[18,2],[24,5],[27,1],[4,8],[9,7],[15,9],[21,7],[26,10],[1,12],[6,13],[11,11],[17,14],[23,12],[3,17],[8,16],[13,18],[19,17],[25,16],[28,19],[5,21],[10,22],[16,20],[22,22],[27,24],[2,25],[7,26],[12,27],[18,25],[24,27],[5,4],[10,2],[15,5],[21,3],[26,3],[1,6],[7,10],[12,8],[18,11],[24,9],[3,14],[9,14],[14,13],[20,13],[26,14],[1,19],[6,18],[11,20],[17,22],[23,19],[4,24],[9,25],[15,26],[21,25],[26,21],[0,27],[13,23],[19,28],[28,8],[16,1]];
function speckle(base,color,radius,secondColor){
  var tile=document.createElement("canvas");
  tile.width=29;tile.height=29;
  var t=tile.getContext("2d");
  if(base){t.fillStyle=base;t.fillRect(0,0,29,29);}
  speckleTile.forEach(function(p,i){
    t.fillStyle=secondColor&&i%3==2?secondColor:color;
    t.beginPath();t.arc(p[0]+.5,p[1]+.5,radius,0,6.3);t.fill();
  });
  return t.createPattern(tile,"repeat");
}
function hull(points,color){
  return {data:points,showLine:true,fill:"shape",backgroundColor:color,borderWidth:0,pointRadius:0,tension:.35,order:5};
}
function cells(points,color,radius){
  return {data:points,showLine:false,backgroundColor:color,pointBackgroundColor:color,pointBorderWidth:0,pointRadius:radius,order:1};
}

// ---- panel a
var atlasMarks=[["Endothelial cells",-8,13],["Fibroblasts",-7.2,11.6],["Stromal cells",-.5,12.3],["Macrophages",.2,6.7],["Neutrophils",-17,2],["Monocytes",-16,-3.2],["DC",-11.8,-5.2],["Stem cells",-4,-7.6],["B cells",-1.9,-10.8],["ILC",6.4,-12],["NK cells",10.7,-12.3],["NKT",6.4,-13.3],["Tgd",6.25,-14.4],["T cells",8.9,-15.6]].map(function(m){
  return {text:m[0],x:m[1],y:m[2],font:"10.5px 'Liberation Sans'"};
});
place({l:70,t:40,r:382,b:341},{l:40,r:12,t:5,b:35},{type:"scatter",
  data:{datasets:[
    hull(macrophageHull,speckle("#3fc77f",atlasColors[5],1)),hull(bCellHull,speckle("#fa9a92",atlasColors[0],1)),
    cells(macrophageCells.concat(macrophageHull),atlasColors[5],1.2),cells(bCellCells.concat(bCellHull),atlasColors[0],1.2),
    cells(otherCells.DC,atlasColors[1],1.3),cells(otherCells.Endothelial,atlasColors[2],1.3),cells(otherCells.Fibroblasts,atlasColors[3],1.3),
    cells(otherCells.ILC,atlasColors[4],1.3),cells(otherCells.Macro2,atlasColors[5],1.2),cells(otherCells.Monocytes,atlasColors[6],1.4),
    cells(otherCells.Neutrophils,atlasColors[7],1.2),cells(otherCells.NK,atlasColors[8],1.3),cells(otherCells.NKT,atlasColors[9],1.4),
    cells(otherCells.Stem,atlasColors[10],1.3),cells(otherCells.T,atlasColors[12],1.8)]},
  options:{layout:{padding:{right:12,top:5}},scales:{
    x:axis(-20,12.4,[-10,0,10],plain,9.5,35),
    y:axis(-17.4,13.4,[-10,0,10],plain,9.5,40)}},
  plugins:[textMarks(atlasMarks)]});
note("UMAP_1",226,362,10.5,{color:"#222"});
note("UMAP_2",44,190,10.5,{rot:-90,color:"#222"});
atlasNames.forEach(function(n,i){
  dot(326,51+13.2*i,3.4,atlasColors[i]);
  note(n,339,51+13.2*i,9.8,{left:true,color:"#222"});
});
place({l:434,t:44,r:711,b:337},{l:35,r:12,t:5,b:30},{type:"scatter",
  data:{datasets:[
    hull(hull0,speckle("#fde6e3",clusterColors[0],.9)),hull(hull1,speckle("#efe6b4",clusterColors[1],1)),hull(hull2,speckle("#d3f2dc",clusterColors[2],.9)),
    cells(cluster0.concat(hull0),clusterColors[0],1.1),cells(cluster1.concat(hull1),clusterColors[1],1.1),cells(cluster2.concat(hull2),clusterColors[2],1.1),
    cells(cluster3,clusterColors[3],1.2),cells(cluster4,clusterColors[4],1.3),cells(cluster5,clusterColors[5],1.3)]},
  options:{layout:{padding:{right:12,top:5}},scales:{
    x:axis(-5.48,10.9,[-5,0,5,10],plain,9.5,30),
    y:axis(-5.98,10.3,[-5,0,5,10],plain,9.5,35)}}});
note("UMAP_1",572,358,10.5,{color:"#222"});
clusterNames.forEach(function(n,i){
  dot(675,204+21.9*i,5.6,clusterColors[i]);
  note(n,696,204+21.9*i,17,{left:true,color:"#222"});
});

// ---- panel b
var bScaleX=function(){var a=axis(-5.65,5.5,[-5,-2.5,0,2.5,5],oneDecimal,8.5,30);a.ticks.padding=0;a.grid.tickLength=3;return a};
var bScaleY=function(){var a=axis(-4.96,5.93,[-2.5,0,2.5,5],oneDecimal,8.5,40);a.grid.tickLength=3;return a};
place({l:71,t:435,r:279,b:738},{l:40,r:14,t:5,b:30},{type:"scatter",
  data:{datasets:[hull(hullMq1,speckle(null,"#F8766D",.65)),hull(hullMq2,speckle(null,"#00BA38",.65)),
    cells(mq1Ns.concat(mq1Gts,hullMq1),"#F8766D",1),cells(mq2Ns.concat(mq2Gts),"#00BA38",1),cells(mq3Ns.concat(mq3Gts),"#619CFF",1.2)]},
  options:{layout:{padding:{right:14,top:5}},scales:{x:bScaleX(),y:bScaleY()}}});
place({l:398,t:435,r:606,b:738},{l:40,r:14,t:5,b:30},{type:"scatter",
  data:{datasets:[hull(hullMq1,speckle(null,"#00BFC4",.65,"#F8766D")),hull(hullMq2,speckle(null,"#00BFC4",.65,"#F8766D")),
    cells(mq1Gts.concat(mq2Gts,mq3Gts,hullMq2),"#00BFC4",1),cells(mq1Ns.concat(mq2Ns,mq3Ns),"#F8766D",1)]},
  options:{layout:{padding:{right:14,top:5}},scales:{x:bScaleX(),y:bScaleY()}}});
note("cluster",175,425,10,{bold:true});
note("orig.ident",502,425,10,{bold:true});
note("UMAP_1",176,757,10,{color:"#222"});
note("UMAP_1",503,757,10,{color:"#222"});
note("UMAP_2",46,587,10,{rot:-90,color:"#222"});
note("UMAP_2",372,587,10,{rot:-90,color:"#222"});
["Mq_1","Mq_2","Mq_3"].forEach(function(n,i){
  dot(293,569+19.4*i,5.3,["#F8766D","#00BA38","#619CFF"][i]);
  note(n,312,569+19.4*i,14.5,{left:true,color:"#222"});
});
["Mq_LPS_Ns","Mq_LPS_GTS"].forEach(function(n,i){
  dot(623,579+19.4*i,5.3,["#F8766D","#00BFC4"][i]);
  note(n,641,579+19.4*i,14.5,{left:true,color:"#222"});
});
note("Macrophage re-cluster analysis",235,399,22);

// ---- panel c
var dejavu="'DejaVu Sans'";
var goMarks=goTerms.map(function(t,i){return {text:t,x:0,dx:3,dy:-3,y:i,align:"left",font:"13.9px "+dejavu,color:"#111"}});
place({l:46,t:801,r:760,b:1150},{l:8,r:12,t:0,b:25},{type:"bar",
  data:{labels:goTerms,datasets:[{data:goValues,backgroundColor:"#93C9EC",barPercentage:.785,categoryPercentage:1}]},
  options:{indexAxis:"y",layout:{padding:{right:12}},scales:{
    x:axis(0,47.2,goTicks,plain,10.5,25,{}),
    y:{type:"category",ticks:{display:false},grid:{display:false},border:{color:"#888",width:1.2},afterFit:function(s){s.width=8}}}},
  plugins:[textMarks(goMarks)]});
note("GO Cellular Component 2021",403,793,14,{family:dejavu,color:"#222"});
note("\u2212log\u2081\u2080(p-value)",398,1172,12.8,{family:dejavu,color:"#222"});

// ---- panel d
var volcanoFrame={id:"frame",afterDatasetsDraw:function(chart){
  var a=chart.chartArea,ctx=chart.ctx,x0=chart.scales.x.getPixelForValue(0);
  ctx.save();
  ctx.strokeStyle="#333";ctx.lineWidth=1.3;ctx.strokeRect(a.left,a.top,a.right-a.left,a.bottom-a.top);
  ctx.setLineDash([3,2]);ctx.lineWidth=1;ctx.beginPath();ctx.moveTo(x0,a.top);ctx.lineTo(x0,a.bottom);ctx.stroke();
  ctx.restore();
}};
var volcanoMarks=volcanoLabels.map(function(l){return {text:l[0],x:l[1],y:l[2],font:"14.5px 'Liberation Sans'",color:"#ee1c25"}})
  .concat(volcanoYTicks.map(function(v){return {text:String(v),x:-1.745,dx:-28,y:v,rot:-90,font:"14px 'Liberation Sans'",color:"#222"}}));
place({l:877,t:59,r:1381,b:506},{l:40,r:20,t:5,b:40},{type:"scatter",
  data:{datasets:[hull(volcanoFloorLeft,"#e8e8e8"),hull(volcanoFloorRight,"#e8e8e8"),cells(volcanoCells,"#e8e8e8",3.9)]},
  options:{layout:{padding:{right:20,top:5}},scales:{
    x:(function(){var a=axis(-1.745,1.237,volcanoXTicks,oneDecimal,15,40);a.grid.tickLength=9;a.ticks.padding=8;return a})(),
    y:(function(){var a=axis(-3.9,103.9,volcanoYTicks,plain,14,40);a.grid.tickLength=9;a.ticks.display=false;return a})()}},
  plugins:[volcanoFrame,textMarks(volcanoMarks)]});
note("Enriched in LPS-Ns",1010,39,22);
note("Enriched in LPS-GTS",1281,41.5,22);
note("-log10(p_val_adj)",813,283,14,{rot:-90,color:"#222"});
var clipped=note("avg_log2FC",1129,570,14,{color:"#222"});
clipped.style.height="9px";clipped.style.overflow="hidden";clipped.style.lineHeight="14px";clipped.style.transform="translate(-50%,-50%)";

// ---- violins
var jitterOffsets=[.62,-.35,.11,-.84,.47,-.09,.93,-.58,.26,-.71,.03,.78,-.44,.36,-.97,.55,-.18,.69,-.29,.88,-.63,.17,-.52,.41,-.79,.07,.97,-.38,.73,-.13,.31,-.91,.58,-.24,.84,-.67,.21,-.48,.5,-.05,.66];
var levelSpread=[0,.018,-.022,.035,-.012,.027,-.03,.009,-.038,.041];
var violinFill=["#F9766B","#0A8791"];
function violinChart(rect,yMin,yMax,yTicks,shapes,levels,zeroHalf,dotSize,tickSize){
  var sets=[];
  shapes.forEach(function(shape,i){
    var center=1+Math.floor(i/2)+(i%2?.225:-.225);
    var left=shape.map(function(p){return {x:center-p[1]*.225,y:p[0]}});
    var right=shape.slice().reverse().map(function(p){return {x:center+p[1]*.225,y:p[0]}});
    sets.push({data:left.concat(right,[left[0]]),showLine:true,fill:"shape",backgroundColor:violinFill[i%2],borderColor:"#2c2c2c",borderWidth:.8,pointRadius:0,tension:.2,order:5});
    var dots=[],list=levels[i];
    list.forEach(function(y,k){
      // closely spaced levels stand for many cells
      var gap=k+1<list.length?list[k+1]-y:1;
      var repeat=gap<.055?10:gap<.08?7:gap<.12?4:gap<.2?2:1;
      for(var r=0;r<repeat;r++)dots.push({x:center+.12*jitterOffsets[(k+i*5+r*13)%jitterOffsets.length],y:y+levelSpread[r]});
    });
    sets.push(cells(dots,"#111",dotSize));
    if(zeroHalf[i]>0)sets.push({data:[{x:center-zeroHalf[i],y:0},{x:center+zeroHalf[i],y:0}],showLine:true,borderColor:"#111",borderWidth:2,pointRadius:0,order:1});
  });
  place(rect,{l:40,r:14,t:5,b:40},{type:"scatter",data:{datasets:sets},
    options:{layout:{padding:{right:14,top:5}},scales:{
      x:(function(){var a=axis(.4,3.6,[1,2,3],function(v){return identNames[v-1]},17,40);a.ticks.padding=7;a.ticks.color="#222";return a})(),
      y:axis(yMin,yMax,yTicks,plain,tickSize,40)}}});
}
var eZero=[.115,.115,.1,.1,.09,.09];
violinChart({l:838.6,t:612,r:1106,b:838},-.19,3.94,[0,1,2,3],eItgalShape,eItgalCells,eZero,1.1,17);
violinChart({l:1163.7,t:610.6,r:1431.5,b:836.3},-.145,3.0,[0,1,2,3],eTgfb1Shape,eTgfb1Cells,eZero,1.1,17);
violinChart({l:838.6,t:903,r:1107.5,b:1128.4},-.19,3.95,[0,1,2,3],eIl4i1Shape,eIl4i1Cells,eZero,1.1,17);
violinChart({l:1161,t:901,r:1429,b:1126.4},-.14,3.02,[0,1,2,3],eCxcr4Shape,eCxcr4Cells,eZero,1.1,17);
note("Itgal",972,590,22,{bold:true});
note("Tgfb1",1297,588.5,22,{bold:true});
note("Il4i1",972,881,22,{bold:true});
note("Cxcr4",1295,879,22,{bold:true});
[[803.5,725],[1128.6,723],[803.5,1014.5],[1127,1013]].forEach(function(p){note("Expression Level",p[0],p[1],18,{rot:-90,color:"#222"})});
note("Identity",974,1174.6,16,{color:"#222"});
note("Identity",1301.5,1174.6,16,{color:"#222"});
swatch(1441,810,20,21,violinFill[0]);swatch(1441,831,20,20,violinFill[1]);
note("Mq_LPS_Ns",1472,820,16,{left:true,color:"#222"});
note("Mq_LPS_GTS",1472,841,16,{left:true,color:"#222"});

var gZero=[.09,.09,.09,.09,.05,.05];
violinChart({l:114.5,t:1907,r:434.8,b:2135},-.175,3.955,[0,1,2,3],gItgalShape,[eItgalCells[0],eItgalCells[1],eItgalCells[2],eItgalCells[3],gItgalMq3[0],gItgalMq3[1]],gZero,.85,12.5);
violinChart({l:477.6,t:1913,r:787,b:2133},-.164,3.44,[0,1,2,3],gNcf1Shape,gNcf1Cells,gZero,.85,12.5);
violinChart({l:119.4,t:2209,r:439.7,b:2436.3},-.25,5.19,[0,1,2,3,4,5],gHspa8Shape,gHspa8Cells,[.04,0,.01,0,.01,0],.85,12.5);
violinChart({l:487.4,t:2218.4,r:800.4,b:2440.4},-.186,4,[0,1,2,3,4],gNr1h3Shape,gNr1h3Cells,[.09,.05,.09,.05,.05,.02],.85,12.5);
note("Itgal",274,1892,16,{bold:true});
note("Ncf1",631,1898,16,{bold:true});
note("Hspa8",279,2193.5,16,{bold:true});
note("Nr1h3",644,2203,16,{bold:true});
[[90,2021.6],[453,2023],[93,2322],[462,2329]].forEach(function(p){note("Expression Level",p[0],p[1],14,{rot:-90,color:"#222"})});
note("Identity",267.6,2485,17,{color:"#222"});
note("Identity",641.8,2485,17,{color:"#222"});
swatch(808,2120,20,22,violinFill[0]);swatch(808,2142,20,20,violinFill[1]);
note("Mq_LPS_Ns",838,2130.6,16,{left:true,color:"#222"});
note("Mq_LPS_GTS",838,2152,16,{left:true,color:"#222"});

// ---- panel f
var groupBand={t:"#FDDAD6",l:"#FDDAD6",m:"#CDEDCE",g:"#CFDBE8","":"transparent"};
var groupRing={t:"#F8766D",l:"#F8766D",m:"#0CB73A",g:"#3F73A2"};
var groupRgb={l:"248,118,109",m:"12,183,58",g:"63,115,162"};
var ribbons={id:"ribbons",beforeDatasetsDraw:function(chart){
  var arcs=chart.getDatasetMeta(2).data,ctx=chart.ctx;
  var r=188;
  function at(name,share){
    var a=arcs[chordGenes.indexOf(name)];
    return a.startAngle+(a.endAngle-a.startAngle)*share;
  }
  var cx=arcs[0].x,cy=arcs[0].y;
  chordLinks.forEach(function(k){
    var a0=at(k[0],k[1]),a1=at(k[0],k[2]),b0=at(k[3],k[4]),b1=at(k[3],k[5]);
    ctx.beginPath();
    ctx.arc(cx,cy,r,a0,a1);
    ctx.quadraticCurveTo(cx,cy,cx+r*Math.cos(b0),cy+r*Math.sin(b0));
    ctx.arc(cx,cy,r,b0,b1);
    ctx.quadraticCurveTo(cx,cy,cx+r*Math.cos(a0),cy+r*Math.sin(a0));
    ctx.closePath();
    ctx.fillStyle="rgba("+groupRgb[k[6]]+","+k[7]+")";
    ctx.fill();
  });
}};
var geneLabels={id:"geneLabels",afterDatasetsDraw:function(chart){
  var arcs=chart.getDatasetMeta(2).data,ctx=chart.ctx;
  ctx.save();
  ctx.font="10.5px 'Liberation Sans'";ctx.fillStyle="#333";ctx.textAlign="center";ctx.textBaseline="middle";
  chordGenes.forEach(function(g,i){
    if(!g)return;
    var a=arcs[i],mid=(a.startAngle+a.endAngle)/2;
    var flip=Math.cos(mid)<0;
    ctx.save();
    ctx.translate(a.x+214*Math.cos(mid),a.y+214*Math.sin(mid));
    ctx.rotate(flip?mid+Math.PI:mid);
    ctx.fillText(g,0,0);
    ctx.restore();
  });
  ctx.restore();
}};
var chordPage=document.createElement("canvas");
chordPage.width=490;chordPage.height=490;
chordPage.style.left="104px";chordPage.style.top="1345px";
page.appendChild(chordPage);
new Chart(chordPage.getContext("2d"),{type:"doughnut",
  data:{labels:chordGenes,datasets:[
    {data:chordSpans,backgroundColor:chordGroups.map(function(g){return groupBand[g]}),borderWidth:0,weight:37},
    {data:chordSpans,backgroundColor:"transparent",borderWidth:0,weight:4},
    {data:chordSpans,backgroundColor:chordGenes.map(function(g,i){return g?groupRing[chordGroups[i]]:"transparent"}),borderWidth:0,weight:6}]},
  options:{responsive:false,rotation:280,radius:240,cutout:193},
  plugins:[ribbons,geneLabels]});
note("Mq_1 target genes",349,1316,24.5);
note("Mq_1_target",347,1335,13,{color:"#F8766D"});
note("Mq_2_ligand",356,1838,11,{color:"#0CB73A"});
note("Mq_1_ligand",569,1706,11,{color:"#F8766D",rot:-64});
note("General",133,1716,11,{color:"#3F73A2",rot:60});
note("Common",59,1731,24.5);note("ligands",59,1761,24.5);
note("Mq_1",634,1731,24.5);note("ligands",634,1761,24.5);
note("Mq_2 ligands",346,1858,24.5);

// ---- panel h
function expressionColor(v){
  var s=expressionStops,i=0;
  if(v<=s[0][0])return "rgb("+s[0][1].join(",")+")";
  while(i<s.length-2&&v>s[i+1][0])i++;
  var t=Math.min(1,(v-s[i][0])/(s[i+1][0]-s[i][0]));
  return "rgb("+s[i][1].map(function(c,k){return Math.round(c+(s[i+1][1][k]-c)*t)}).join(",")+")";
}
var bubbles=[],bubbleColors=[];
dotGenes.forEach(function(g,r){
  dotGroups.forEach(function(n,c){
    bubbles.push({x:c,y:r,r:dotPercent[r][c]*.12});
    bubbleColors.push(expressionColor(dotExpression[r][c]));
  });
});
var hX=axis(-.6,5.61,[0,1,2,3,4,5],function(v){return dotGroups[v]},18.5,205,{position:"top"});
hX.ticks.minRotation=90;hX.ticks.maxRotation=90;hX.ticks.padding=2;hX.ticks.color="#000";hX.ticks.labelOffset=12;hX.border.color="#555";hX.border.width=1.8;
var hY=axis(-.604,15.65,dotGenes.map(function(g,i){return i}),function(v){return dotGenes[v]},18,100,{reverse:true});
hY.ticks.font={size:18,style:"italic"};hY.ticks.color="#111";hY.ticks.padding=4;hY.border.color="#555";hY.border.width=1.8;
place({l:1079.3,t:1491.5,r:1381.7,b:2500},{l:100,r:10,t:205,b:25},{type:"bubble",
  data:{datasets:[{data:bubbles,backgroundColor:bubbleColors,borderWidth:0}]},
  options:{layout:{padding:{right:10,bottom:25}},scales:{x:hX,y:hY}}});
note("Average Expression",1400,1871,18.4,{left:true,color:"#111"});
var bar=document.createElement("div");
var gradientStops=[];
for(var v=1.91;v>=-1.7;v-=.2)gradientStops.push(expressionColor(v));
bar.style.cssText="position:absolute;left:1400px;top:1888px;width:20.5px;height:102px;background:linear-gradient(to bottom,"+gradientStops.join(",")+")";
page.appendChild(bar);
[[1,"1"],[0,"0"],[-1,"-1"]].forEach(function(t){note(t[1],1430.7,1942-t[0]*28.2,18,{left:true,color:"#111"})});
note("Percent Expressed",1400,2017.5,18.4,{left:true,color:"#111"});
[2045,2065.8,2086.7,2113].forEach(function(y,i){
  dot(1415,y,sizeLegend[i]*.12,"#000");
  note(String(sizeLegend[i]),1440,y,18,{left:true,color:"#111"});
});

// ---- panel letters
[["a",14,24],["b",12,403],["c",14,799],["d",779,22],["e",782,562],["f",31,1328],["g",46,1898],["h",897,1328]].forEach(function(l){
  note(l[0],l[1],l[2],38,{bold:true});
});
</script></body></html>
